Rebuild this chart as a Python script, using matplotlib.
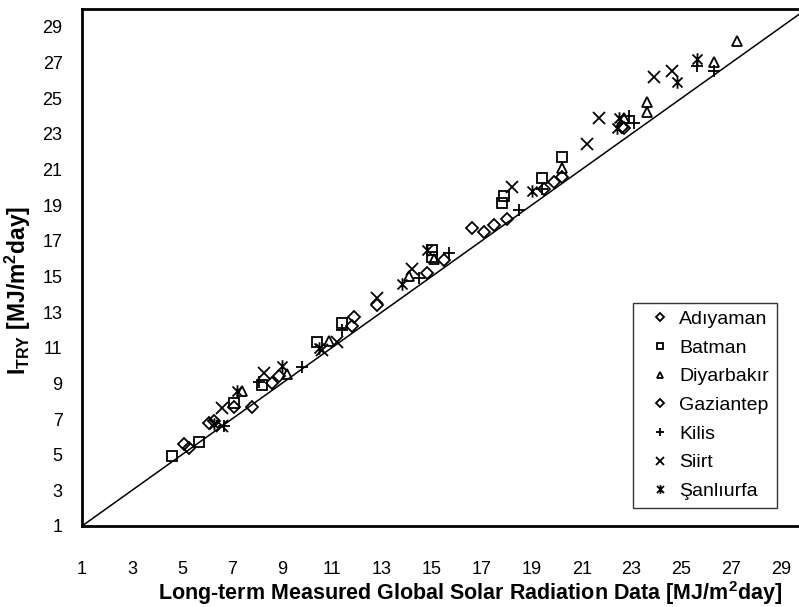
import matplotlib
matplotlib.use("Agg")
import matplotlib.pyplot as plt
from matplotlib.path import Path

plt.rcParams['font.family'] = ['Liberation Sans', 'DejaVu Sans']
plt.rcParams['mathtext.fontset'] = 'custom'
plt.rcParams['mathtext.rm'] = 'Liberation Sans:bold'
plt.rcParams['mathtext.it'] = 'Liberation Sans:bold'
plt.rcParams['mathtext.bf'] = 'Liberation Sans:bold'

# monthly values: (measured, TRY)
adiyaman_x = [5.1, 6.1, 7.1, 8.6, 11.9, 12.8, 14.8, 16.6, 17.5, 19.5, 20.2, 22.6]
adiyaman_y = [5.6, 6.8, 7.7, 9.0, 12.7, 13.4, 15.2, 17.7, 17.9, 19.9, 20.6, 23.4]
batman_x = [4.6, 5.7, 7.1, 8.2, 10.4, 11.4, 15.0, 15.0, 17.8, 17.9, 19.4, 20.2]
batman_y = [4.9, 5.7, 7.9, 8.9, 11.3, 12.4, 16.5, 16.1, 19.1, 19.5, 20.5, 21.7]
diyarbakir_x = [7.4, 9.2, 10.9, 14.1, 15.1, 20.2, 22.7, 23.6, 23.6, 26.3, 27.2]
diyarbakir_y = [8.6, 9.5, 11.4, 15.0, 16.0, 21.1, 23.9, 24.2, 24.8, 27.0, 28.2]
gaziantep_x = [5.3, 6.3, 7.8, 8.9, 11.8, 15.5, 17.1, 18.0, 19.9, 22.7]
gaziantep_y = [5.4, 6.9, 7.7, 9.4, 12.2, 15.9, 17.5, 18.2, 20.3, 23.3]
kilis_x = [6.7, 8.1, 9.8, 11.4, 14.5, 15.7, 18.5, 19.4, 22.9, 23.1, 25.6, 26.3]
kilis_y = [6.6, 9.1, 9.9, 12.0, 14.9, 16.3, 18.7, 19.9, 24.0, 23.6, 26.8, 26.5]
siirt_x = [6.6, 6.6, 8.3, 10.6, 11.2, 12.8, 14.2, 18.2, 21.2, 21.7, 23.9, 24.6]
siirt_y = [6.6, 7.6, 9.6, 10.9, 11.3, 13.8, 15.4, 20.0, 22.4, 23.9, 26.2, 26.5]
sanliurfa_x = [6.3, 7.2, 9.0, 10.5, 13.8, 14.8, 19.0, 22.4, 22.5, 24.8, 25.6]
sanliurfa_y = [6.7, 8.6, 10.0, 11.0, 14.6, 16.5, 19.8, 23.3, 23.9, 25.9, 27.2]

ticks = list(range(1, 30, 2))

star = Path([(-1, -1), (1, 1), (-1, 1), (1, -1), (0, -1.25), (0, 1.25)],
            [Path.MOVETO, Path.LINETO] * 3)

series = [
    ("Adıyaman", adiyaman_x, adiyaman_y, "D", 6),
    ("Batman", batman_x, batman_y, "s", 6.5),
    ("Diyarbakır", diyarbakir_x, diyarbakir_y, "^", 7),
    ("Gaziantep", gaziantep_x, gaziantep_y, "D", 6),
    ("Kilis", kilis_x, kilis_y, "+", 9),
    ("Siirt", siirt_x, siirt_y, "x", 8),
    ("Şanlıurfa", sanliurfa_x, sanliurfa_y, star, 9),
]

fig = plt.figure(figsize=(7.99, 6.07), dpi=100)
ax = fig.add_axes([82 / 799, 81 / 607, 717 / 799, 517 / 607])

ax.plot([1, 30], [1, 30], color="black", lw=1.1, zorder=1)

for name, xs, ys, m, ms in series:
    ax.plot(xs, ys, ls="none", marker=m, ms=ms, mfc="none", mec="black",
            mew=1.3, color="black", label=name, zorder=3)

ax.set_xlim(1, 29.7)
ax.set_ylim(1, 30)
ax.set_xticks(ticks)
ax.set_yticks(ticks)
ax.tick_params(length=0, labelsize=13)
ax.tick_params(axis="x", pad=25)
ax.tick_params(axis="y", pad=14)

for s in ["left", "bottom", "top"]:
    ax.spines[s].set_linewidth(2)
ax.spines["right"].set_visible(False)

ax.set_xlabel("Long-term Measured Global Solar Radiation Data [MJ/m$^2$day]",
              fontsize=15.5, fontweight="bold")
ax.xaxis.set_label_coords(0.541, -0.102)
ax.set_ylabel("I$_{\\mathrm{TRY}}$ [MJ/m$^2$day]", fontsize=16.5, fontweight="bold")
ax.yaxis.set_label_coords(-0.068, 0.456)

leg = ax.legend(loc="lower right", bbox_to_anchor=(0.969, 0.035), borderaxespad=0,
                fontsize=14, frameon=True, fancybox=False, edgecolor="black",
                markerscale=0.7, handlelength=2.0, handletextpad=0.0,
                labelspacing=0.57, borderpad=0.4)
leg.get_frame().set_linewidth(1.0)

fig.savefig("out.png", dpi=100)
